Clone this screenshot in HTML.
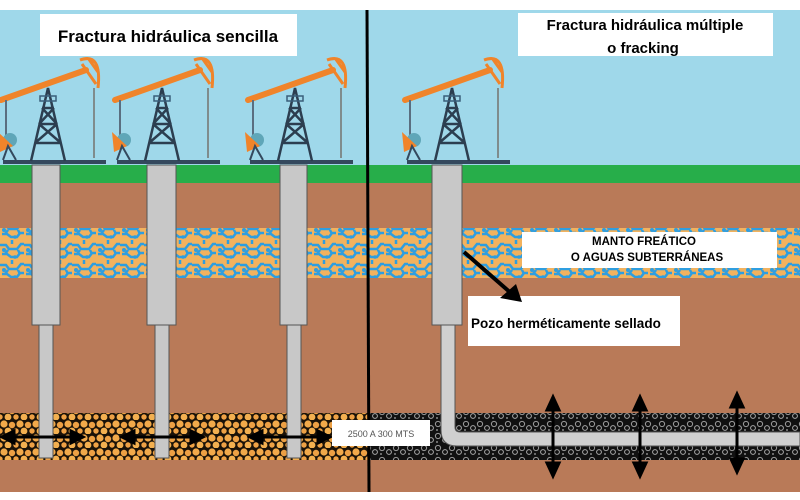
<!DOCTYPE html>
<html><head><meta charset="utf-8"><style>
html,body{margin:0;padding:0;background:#fff}
svg{display:block}
text{font-family:"Liberation Sans",sans-serif;font-weight:bold;fill:#000}
</style></head><body>
<svg width="800" height="500" viewBox="0 0 800 500" xmlns="http://www.w3.org/2000/svg">
<defs>
<pattern id="aq" width="24" height="20" patternUnits="userSpaceOnUse">
<rect width="24" height="20" fill="#f2b25e"/>
<path d="M0 5h6l3 4h8l4-5h3M2 14h5l4 3h6l3-4h4M12 0v4M8 10l-3 4M18 10l2 4" stroke="#2e9ee0" stroke-width="2.5" fill="none"/>
<circle cx="4" cy="10" r="2" fill="#2e9ee0"/><circle cx="15" cy="17" r="1.8" fill="#2e9ee0"/>
</pattern>
<pattern id="ro" width="16" height="14" patternUnits="userSpaceOnUse">
<rect width="16" height="14" fill="#1a1208"/>
<circle cx="4" cy="4" r="3.6" fill="#f1a94a"/><circle cx="12" cy="5" r="3.2" fill="#eda044"/>
<circle cx="8" cy="11" r="3.4" fill="#f3b050"/><circle cx="0" cy="11" r="2.7" fill="#eea145"/><circle cx="16" cy="11" r="2.7" fill="#eea145"/>
</pattern>
<pattern id="bk" width="14" height="12" patternUnits="userSpaceOnUse">
<rect width="14" height="12" fill="#111"/>
<circle cx="4" cy="4" r="2.6" fill="none" stroke="#9a9a9a" stroke-width="1"/>
<circle cx="11" cy="8" r="2.4" fill="none" stroke="#aaa" stroke-width="1"/>
<circle cx="3" cy="10" r="1" fill="#888"/>
</pattern>
<g id="pj">
<line x1="-45" y1="162" x2="58" y2="162" stroke="#34495e" stroke-width="4"/>
<path d="M-17 161 L0 88 L17 161 M-13 143 L13 143 M-9 124 L9 124 M-6 108 L6 108 M-13 143 L9 124 M13 143 L-9 124 M-9 124 L6 108 M9 124 L-6 108" stroke="#2c3e50" stroke-width="2.5" fill="none"/>
<rect x="-8" y="96" width="16" height="5" fill="none" stroke="#3a5f7a" stroke-width="1.5"/>
<line x1="-47" y1="100" x2="38" y2="70" stroke="#f0842a" stroke-width="6" stroke-linecap="round"/>
<path d="M32 60 Q54 52 50 88 M34 64 L48 84 M40 58 L50 72" stroke="#f0842a" stroke-width="3" fill="none"/>
<line x1="46" y1="88" x2="46" y2="158" stroke="#7f8c8d" stroke-width="2"/>
<line x1="-42" y1="100" x2="-42" y2="140" stroke="#5a6e80" stroke-width="2"/>
<circle cx="-38" cy="140" r="7" fill="#5fa6b8"/>
<path d="M-50 132 L-35 146 L-48 152 Z" fill="#f0842a"/>
<path d="M-45 160 L-40 146 L-32 160" stroke="#34495e" stroke-width="2" fill="none"/>
</g>
</defs>
<rect width="800" height="500" fill="#fff"/>
<rect y="10" width="800" height="157" fill="#9fd8ea"/>
<rect y="165" width="800" height="19" fill="#27ae4a"/>
<rect y="183" width="800" height="309" fill="#b97a58"/>
<rect y="228" width="800" height="50" fill="url(#aq)"/>
<rect y="413" width="368" height="47" fill="url(#ro)"/>
<rect x="368" y="413" width="432" height="47" fill="url(#bk)"/>

<use href="#pj" x="48" y="0"/>
<use href="#pj" x="162" y="0"/>
<use href="#pj" x="295" y="0"/>
<use href="#pj" x="452" y="0"/>

<g fill="#c8c8c8" stroke="#555" stroke-width="1">
<rect x="32" y="165" width="28" height="160"/>
<rect x="39" y="325" width="14" height="133"/>
<rect x="147" y="165" width="29" height="160"/>
<rect x="155" y="325" width="14" height="133"/>
<rect x="280" y="165" width="27" height="160"/>
<rect x="287" y="325" width="14" height="133"/>
<rect x="432" y="165" width="30" height="160"/>
</g>
<path d="M441 325 V430 Q441 446 457 446 H800 V432 H460 Q455 432 455 427 V325 Z" fill="#d0d0d0" stroke="#555" stroke-width="1"/>

<g stroke="#000" stroke-width="3" fill="#000">
<line x1="10" y1="437" x2="75" y2="437"/><path d="M2 437 l12 -6 v12z M83 437 l-12 -6 v12z"/>
<line x1="130" y1="437" x2="195" y2="437"/><path d="M122 437 l12 -6 v12z M203 437 l-12 -6 v12z"/>
<line x1="258" y1="437" x2="322" y2="437"/><path d="M250 437 l12 -6 v12z M330 437 l-12 -6 v12z"/>
<line x1="553" y1="405" x2="553" y2="470"/><path d="M553 397 l-6 13 h12z M553 476 l-6 -13 h12z"/>
<line x1="640" y1="405" x2="640" y2="470"/><path d="M640 397 l-6 13 h12z M640 476 l-6 -13 h12z"/>
<line x1="737" y1="402" x2="737" y2="466"/><path d="M737 394 l-6 13 h12z M737 472 l-6 -13 h12z"/>
</g>

<line x1="367" y1="10" x2="369" y2="492" stroke="#000" stroke-width="3"/>

<rect x="40" y="14" width="257" height="42" fill="#fff"/>
<text x="168" y="42" font-size="17" text-anchor="middle">Fractura hidráulica sencilla</text>
<rect x="518" y="13" width="255" height="43" fill="#fff"/>
<text x="645" y="30" font-size="15" text-anchor="middle">Fractura hidráulica múltiple</text>
<text x="643" y="53" font-size="15" text-anchor="middle">o fracking</text>
<rect x="522" y="232" width="255" height="36" fill="#fff"/>
<text x="644" y="245" font-size="11.5" text-anchor="middle">MANTO FREÁTICO</text>
<text x="647" y="261" font-size="11.5" text-anchor="middle">O AGUAS SUBTERRÁNEAS</text>
<rect x="468" y="296" width="212" height="50" fill="#fff"/>
<text x="471" y="328" font-size="13.5">Pozo herméticamente sellado</text>
<line x1="464" y1="252" x2="512" y2="294" stroke="#000" stroke-width="4"/>
<path d="M522 302 L500 298 L516 284 Z" fill="#000"/>
<rect x="332" y="420" width="98" height="26" fill="#fff"/>
<text x="381" y="437" font-size="9" text-anchor="middle" style="font-weight:normal;fill:#555">2500 A 300 MTS</text>
</svg>
</body></html>
